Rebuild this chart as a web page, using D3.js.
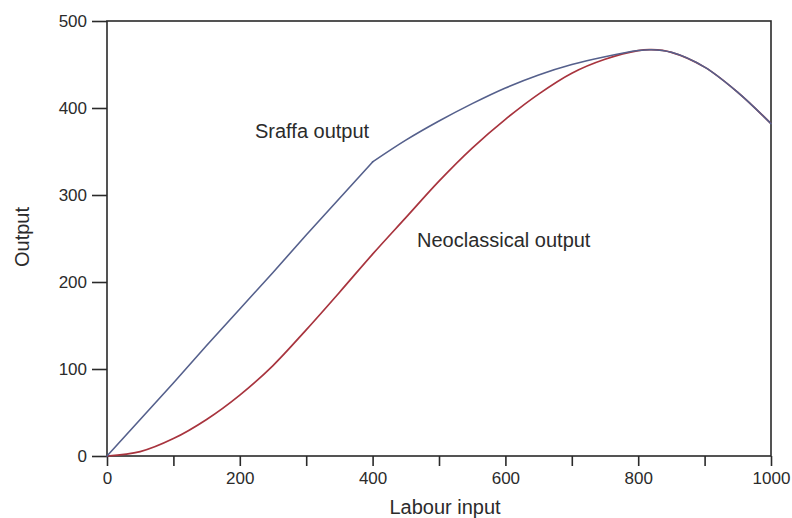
<!DOCTYPE html>
<html>
<head>
<meta charset="utf-8">
<script src="https://cdn.jsdelivr.net/npm/d3@7"></script>
<style>
  html, body { margin: 0; padding: 0; background: #ffffff; }
  svg { display: block; }
  text { font-family: "Liberation Sans", Arial, sans-serif; fill: #2b2b2b; }
</style>
</head>
<body>
<svg id="chart" width="792" height="518"></svg>
<script>
// ---- data ----
const labourInput   = [0, 50, 100, 150, 200, 250, 300, 350, 400, 450, 500, 550, 600, 650, 700, 750, 800, 820, 850, 900, 950, 1000];
const sraffaOutput  = [0, 42, 84, 127, 169, 211, 254, 296, 338, 363, 385, 405, 423, 438, 450, 459, 466, 467, 464, 447, 418, 382];
const neoOutput     = [0, 5, 20, 42, 70, 104, 145, 188, 232, 274, 316, 354, 387, 416, 440, 456, 466, 467, 464, 447, 418, 382];
const sraffaKink    = 400; // Sraffa output is a straight line up to this labour input
const xTickValues   = [0, 100, 200, 300, 400, 500, 600, 700, 800, 900, 1000];
const xTickLabels   = ["0", "", "200", "", "400", "", "600", "", "800", "", "1000"];
const yTickValues   = [0, 100, 200, 300, 400, 500];
const seriesNames   = ["Sraffa output", "Neoclassical output"];
const axisTitles    = ["Labour input", "Output"];

// ---- layout ----
const svg = d3.select("#chart");
const plotLeft = 107, plotRight = 771, plotTop = 21, plotBottom = 456;

const x = d3.scaleLinear().domain([0, 1000]).range([plotLeft, plotRight]);
const y = d3.scaleLinear().domain([0, 500]).range([plotBottom, plotTop]);

const axisColor = "#2a2a2a";

// frame
svg.append("rect")
  .attr("x", plotLeft).attr("y", plotTop)
  .attr("width", plotRight - plotLeft).attr("height", plotBottom - plotTop)
  .attr("fill", "none").attr("stroke", axisColor).attr("stroke-width", 1.6);

// x axis
const gx = svg.append("g")
  .attr("transform", `translate(0,${plotBottom})`)
  .call(d3.axisBottom(x)
    .tickValues(xTickValues)
    .tickFormat((d, i) => xTickLabels[i])
    .tickSize(10)
    .tickPadding(6));
gx.select(".domain").remove();
gx.selectAll(".tick line").attr("stroke", axisColor).attr("stroke-width", 1.6);
gx.selectAll(".tick text").style("font-size", "17px").attr("fill", "#2b2b2b");

// y axis
const gy = svg.append("g")
  .attr("transform", `translate(${plotLeft},0)`)
  .call(d3.axisLeft(y)
    .tickValues(yTickValues)
    .tickFormat(d3.format("d"))
    .tickSize(15)
    .tickPadding(5));
gy.select(".domain").remove();
gy.selectAll(".tick line").attr("stroke", axisColor).attr("stroke-width", 1.6);
gy.selectAll(".tick text").style("font-size", "17px").attr("fill", "#2b2b2b");

// lines
const sraffaData = labourInput.map((v, i) => [v, sraffaOutput[i]]);
const neoData = labourInput.map((v, i) => [v, neoOutput[i]]);
const lineSmooth = d3.line().x(d => x(d[0])).y(d => y(d[1])).curve(d3.curveCatmullRom.alpha(0.5));
const lineStraight = d3.line().x(d => x(d[0])).y(d => y(d[1])).curve(d3.curveLinear);

svg.append("path").datum(neoData)
  .attr("d", lineSmooth).attr("fill", "none")
  .attr("stroke", "#a8343e").attr("stroke-width", 1.7);

const sraffaColor = "#55608c";
svg.append("path").datum(sraffaData.filter(d => d[0] <= sraffaKink))
  .attr("d", lineStraight).attr("fill", "none")
  .attr("stroke", sraffaColor).attr("stroke-width", 1.6)
  .attr("stroke-linecap", "round");
svg.append("path").datum(sraffaData.filter(d => d[0] >= sraffaKink))
  .attr("d", lineSmooth).attr("fill", "none")
  .attr("stroke", sraffaColor).attr("stroke-width", 1.6)
  .attr("stroke-linecap", "round");

// annotations
svg.append("text").attr("x", 255).attr("y", 138)
  .style("font-size", "20px").text(seriesNames[0]);
svg.append("text").attr("x", 417).attr("y", 247)
  .style("font-size", "20px").text(seriesNames[1]);

// axis titles
svg.append("text").attr("x", 445).attr("y", 514)
  .attr("text-anchor", "middle").style("font-size", "20px").text(axisTitles[0]);
svg.append("text").attr("transform", "translate(29,237) rotate(-90)")
  .attr("text-anchor", "middle").style("font-size", "20px").text(axisTitles[1]);
</script>
</body>
</html>
